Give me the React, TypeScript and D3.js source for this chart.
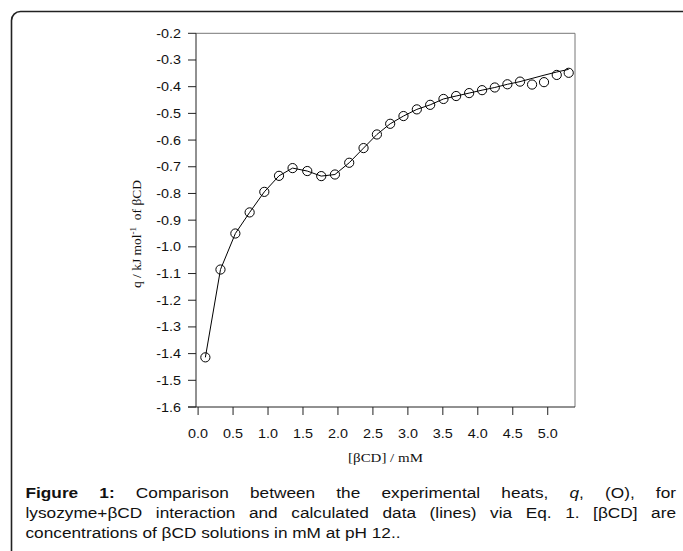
import React, { useEffect, useRef } from 'react';
import * as d3 from 'd3';

// [βCD] concentrations (mM) and heats q (kJ/mol of βCD)
const conc = [0.104, 0.32, 0.533, 0.737, 0.947, 1.157, 1.351, 1.561, 1.761, 1.957, 2.161, 2.366, 2.557, 2.747,
  2.937, 3.128, 3.319, 3.509, 3.69, 3.876, 4.061, 4.243, 4.423, 4.604, 4.776, 4.947, 5.129, 5.3];
const heatExp = [-1.414, -1.085, -0.95, -0.871, -0.794, -0.734, -0.705, -0.716, -0.735, -0.729, -0.685, -0.63,
  -0.579, -0.539, -0.51, -0.485, -0.468, -0.446, -0.435, -0.424, -0.413, -0.403, -0.391, -0.381, -0.392, -0.383,
  -0.356, -0.348];
const heatCalc = [-1.414, -1.085, -0.95, -0.871, -0.794, -0.734, -0.705, -0.716, -0.735, -0.729, -0.685, -0.63,
  -0.579, -0.539, -0.51, -0.485, -0.468, -0.446, -0.435, -0.424, -0.413, -0.403, -0.391, -0.381, -0.369, -0.357,
  -0.345, -0.335];
const xTicks = [0, 0.5, 1, 1.5, 2, 2.5, 3, 3.5, 4, 4.5, 5];
const yTicks = [-0.2, -0.3, -0.4, -0.5, -0.6, -0.7, -0.8, -0.9, -1.0, -1.1, -1.2, -1.3, -1.4, -1.5, -1.6];

// caption lines, split in runs (b = bold, i = italic)
const captionLines = [
  [{ t: 'Figure 1:', b: true }, { t: ' Comparison between the experimental heats, ' }, { t: 'q', i: true }, { t: ', (O), for' }],
  [{ t: 'lysozyme+βCD interaction and calculated data (lines) via Eq. 1. [βCD] are' }],
  [{ t: 'concentrations of βCD solutions in mM at pH 12..' }],
];

const W = 683, H = 551;
const left = 196, right = 575, top = 33.3, bottom = 407;
const SX = 1.15; // text in the figure is slightly stretched horizontally
const sans = '"Liberation Sans", Arial, sans-serif';
const serif = '"Liberation Serif", "Times New Roman", serif';
const fmt = (v: number) => v.toFixed(1); // plain hyphen minus, as in the figure

const App = () => {
  const capRef = useRef<SVGGElement>(null);

  const x = d3.scaleLinear().domain([-0.03, 5.39]).range([left, right]);
  const y = d3.scaleLinear().domain([-1.6, -0.2]).range([bottom, top]);
  const line = d3.line<number>().x((_, i) => x(conc[i])).y(d => y(d));

  const capLeft = 25.5, capRight = 676;

  // justify the first two caption lines by stretching the spaces
  useEffect(() => {
    if (!capRef.current) return;
    const texts = capRef.current.querySelectorAll('text');
    texts.forEach((el, i) => {
      if (i >= captionLines.length - 1) return;
      const t = el as SVGTextElement;
      t.setAttribute('word-spacing', '0');
      const len = t.getComputedTextLength();
      const spaces = (t.textContent || '').split(' ').length - 1;
      const target = (capRight - capLeft) / SX;
      t.setAttribute('word-spacing', String((target - len) / spaces));
    });
  }, []);

  return (
    <svg width={W} height={H} style={{ position: 'absolute', left: 0, top: 0, background: '#fff' }}>
      <rect x={11.5} y={11.5} width={700} height={600} rx={9} fill="none" stroke="#222" strokeWidth={1.6} />

      {/* frame: top and right in grey */}
      <line x1={left} x2={right} y1={top} y2={top} stroke="#777" />
      <line x1={right} x2={right} y1={top} y2={bottom} stroke="#777" />
      <line x1={left} x2={left} y1={top} y2={bottom} stroke="#222" />
      <line x1={left - 8} x2={right} y1={bottom} y2={bottom} stroke="#222" />

      {yTicks.map(v => (
        <g key={'y' + v}>
          <line x1={left - 8} x2={left} y1={y(v)} y2={y(v)} stroke="#222" />
          <text transform={`translate(181,${y(v) + 4.5}) scale(${SX},1)`} textAnchor="end"
            fontFamily={sans} fontSize={12.5} fill="#111">{fmt(v)}</text>
        </g>
      ))}
      {xTicks.map(v => (
        <g key={'x' + v}>
          <line x1={x(v)} x2={x(v)} y1={bottom} y2={bottom + 8} stroke="#222" />
          <text transform={`translate(${x(v)},437.5) scale(${SX},1)`} textAnchor="middle"
            fontFamily={sans} fontSize={12.5} fill="#111">{fmt(v)}</text>
        </g>
      ))}

      <text transform={`translate(${(left + right) / 2},461.5) scale(${SX},1)`} textAnchor="middle"
        fontFamily={serif} fontSize={13} fill="#111">[βCD] / mM</text>
      <text transform="translate(140.5,234) rotate(-90)" textAnchor="middle" fontFamily={serif} fontSize={13.5} fill="#111">
        q / kJ mol<tspan dy={-5} fontSize={9}>-1</tspan><tspan dy={5} xmlSpace="preserve">{'  of βCD'}</tspan>
      </text>

      <path d={line(heatCalc) || ''} fill="none" stroke="#000" strokeWidth={1} />
      {heatExp.map((v, i) => (
        <circle key={i} cx={x(conc[i])} cy={y(v)} r={4.6} fill="none" stroke="#000" strokeWidth={1} />
      ))}

      <g ref={capRef}>
        {captionLines.map((runs, li) => (
          <text key={li} transform={`translate(${capLeft},${498 + li * 20}) scale(${SX},1)`}
            fontFamily={sans} fontSize={15} fill="#111" style={{ whiteSpace: 'pre' }}>
            {runs.map((r: any, ri) => (
              <tspan key={ri} fontWeight={r.b ? 'bold' : 'normal'} fontStyle={r.i ? 'italic' : 'normal'}>{r.t}</tspan>
            ))}
          </text>
        ))}
      </g>
    </svg>
  );
};

export default App;
